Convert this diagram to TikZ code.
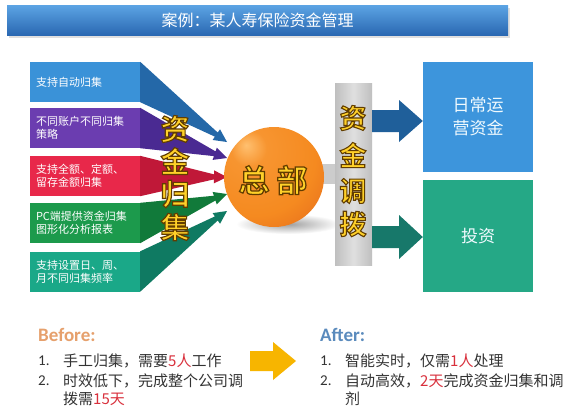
\documentclass[tikz,border=0pt]{standalone}
\usepackage{fontspec}
\setmainfont{Noto Sans CJK SC}[BoldFont={* Bold}]
\newfontfamily\latinfont{Carlito}
\newfontfamily\goldfont{Noto Sans CJK SC Bold}[FakeBold=4]
\usetikzlibrary{calc}
\definecolor{titletop}{HTML}{5CA4E4}
\definecolor{titlebot}{HTML}{2A68B2}
\definecolor{c1}{HTML}{3A92D8}\definecolor{d1}{HTML}{2468A8}
\definecolor{c2}{HTML}{6B3DB0}\definecolor{d2}{HTML}{4A2A92}
\definecolor{c3}{HTML}{E8284A}\definecolor{d3}{HTML}{C01838}
\definecolor{c4}{HTML}{1C9A4C}\definecolor{d4}{HTML}{117A3A}
\definecolor{c5}{HTML}{1AA888}\definecolor{d5}{HTML}{0F7A62}
\definecolor{rblue}{HTML}{3D95DC}
\definecolor{rgreen}{HTML}{25A886}
\definecolor{arrblue}{HTML}{1F5F9A}
\definecolor{arrgreen}{HTML}{17786A}
\definecolor{beforecol}{HTML}{E6A06C}
\definecolor{aftercol}{HTML}{5B8BBD}
\definecolor{redtxt}{HTML}{D9303C}
\definecolor{bodytxt}{HTML}{333333}
\definecolor{yarrow}{HTML}{F7B500}
\definecolor{ballhi}{HTML}{FFC070}
\definecolor{ballmid}{HTML}{F58A20}
\definecolor{ballout}{HTML}{E0601A}
\definecolor{balledge}{HTML}{A83A10}
\pgfdeclareradialshading{orangeball}{\pgfpoint{-14bp}{16bp}}{%
  color(0bp)=(ballhi);
  color(9bp)=(ballmid!80!ballhi);
  color(30bp)=(ballmid);
  color(52bp)=(ballout);
  color(72bp)=(balledge);
  color(90bp)=(balledge)}
\newcommand{\goldtxt}[1]{\special{pdf:bcolor [1 0.82 0.16] [0.38 0.24 0]}#1\special{pdf:ecolor}}
\tikzset{
  leftbox/.style={minimum width=110pt,minimum height=40pt,inner xsep=6pt,
    text width=98pt,align=left,text=white,font=\fontsize{11}{13}\selectfont,anchor=center},
  rightbox/.style={minimum width=110pt,text=cyan!6,align=center,font=\fontsize{17}{23}\selectfont},
  goldbig/.style={inner sep=0pt,font=\goldfont\fontsize{#1}{#1}\selectfont},
  bodyline/.style={anchor=west,inner sep=0pt,text=bodytxt,font=\fontsize{15}{18}\selectfont},
  numline/.style={anchor=west,inner sep=0pt,text=bodytxt,font=\latinfont\fontsize{15}{18}\selectfont},
}
\begin{document}
\begin{tikzpicture}[x=1pt,y=-1pt]
\useasboundingbox (0,0) rectangle (572,408);
\fill[white] (0,0) rectangle (572,408);
% title bar
\fill[gray!25] (9,8) rectangle (510,38);
\node[top color=titletop,bottom color=titlebot,minimum width=501pt,minimum height=30pt,
  text=white,font=\fontsize{16}{16}\selectfont] (title) at (257.5,20) {案例：某人寿保险资金管理};
% left boxes
\node[leftbox,fill=c1] (b1) at (85,82) {支持自动归集};
\node[leftbox,fill=c2] (b2) at (85,128) {不同账户不同归集\\策略};
\node[leftbox,fill=c3] (b3) at (85,176) {支持全额、定额、\\留存金额归集};
\node[leftbox,fill=c4] (b4) at (85,223) {PC端提供资金归集\\图形化分析报表};
\node[leftbox,fill=c5] (b5) at (85,271.5) {支持设置日、周、\\月不同归集频率};
% tapered arrows
\foreach \i/\ty in {1/142,2/158,3/177,4/194,5/211}{
  \coordinate (t\i) at (227,\ty);
  \coordinate (s\i) at (b\i.east);
  \coordinate (h\i) at ($(t\i)!13pt!(s\i)$);
  \fill[d\i] (b\i.north east) -- ($(h\i)!2.5pt!90:(t\i)$) -- ($(h\i)!6.5pt!90:(t\i)$) -- (t\i)
     -- ($(h\i)!6.5pt!-90:(t\i)$) -- ($(h\i)!2.5pt!-90:(t\i)$) -- (b\i.south east) -- cycle;
}
% vertical gold text
\node[goldbig=29] (g1) at (175,129) {\goldtxt{资}};
\node[goldbig=29] (g2) at (175,161) {\goldtxt{金}};
\node[goldbig=29] (g3) at (175,194) {\goldtxt{归}};
\node[goldbig=29] (g4) at (175,227) {\goldtxt{集}};
% sphere shadow
\shade[inner color=gray!75,outer color=white] (288,224) ellipse (52 and 10);
% connector to bar
\fill[gray!40] (318,164) rectangle (336,184);
% sphere
\node[circle,minimum size=100pt,inner sep=0pt,shading=orangeball] (hq) at (274,177) {};
\node[goldbig=31] (hqtext) at (273,180) {\goldtxt{总\hspace{7pt}部}};
% gray bar
\node[minimum width=37pt,minimum height=182pt,inner sep=0pt,left color=gray!50,right color=gray!50,middle color=gray!25] (bar) at (353.5,174) {};
\node[goldbig=27] (v1) at (353,118) {\goldtxt{资}};
\node[goldbig=27] (v2) at (353,155) {\goldtxt{金}};
\node[goldbig=27] (v3) at (353,191) {\goldtxt{调}};
\node[goldbig=27] (v4) at (353,224) {\goldtxt{拨}};
% right boxes
\node[rightbox,fill=rblue,minimum height=110pt] (ra) at (478,117) {日常运\\营资金};
\node[rightbox,fill=rgreen,minimum height=112pt] (rb) at (478,236) {投资};
% right arrows
\fill[arrblue] (bar.east |- 0,110) -- (399,110) -- (399,100) -- (ra.west |- 0,121) -- (399,142) -- (399,132) -- (bar.east |- 0,132) -- cycle;
\fill[arrgreen] (bar.east |- 0,226) -- (399,226) -- (399,215) -- (rb.west |- 0,237) -- (399,259) -- (399,248) -- (bar.east |- 0,248) -- cycle;
% bottom: before
\node[anchor=west,inner sep=0pt,text=beforecol,font=\latinfont\bfseries\fontsize{19}{19}\selectfont] (before) at (38,335) {Before:};
\node[numline] (bn1) at (38,361) {1.};
\node[bodyline] (bl1) at (63,361) {手工归集，需要\textcolor{redtxt}{5人}工作};
\node[numline] (bn2) at (38,381) {2.};
\node[bodyline] (bl2) at (63,381) {时效低下，完成整个公司调};
\node[bodyline] (bl3) at (63,399) {拨需\textcolor{redtxt}{15天}};
% yellow arrow
\coordinate (ya) at (250,361);
\coordinate (yb) at (296,361);
\fill[yarrow] ($(ya)+(0,-10)$) -- (273,351) -- (273,342) -- (yb) -- (273,380) -- (273,371) -- ($(ya)+(0,10)$) -- cycle;
% bottom: after
\node[anchor=west,inner sep=0pt,text=aftercol,font=\latinfont\bfseries\fontsize{19}{19}\selectfont] (after) at (320,335) {After:};
\node[numline] (an1) at (320,361) {1.};
\node[bodyline] (al1) at (345,361) {智能实时，仅需\textcolor{redtxt}{1人}处理};
\node[numline] (an2) at (320,381) {2.};
\node[bodyline] (al2) at (345,381) {自动高效，\textcolor{redtxt}{2天}完成资金归集和调};
\node[bodyline] (al3) at (345,399) {剂};
\end{tikzpicture}
\end{document}
